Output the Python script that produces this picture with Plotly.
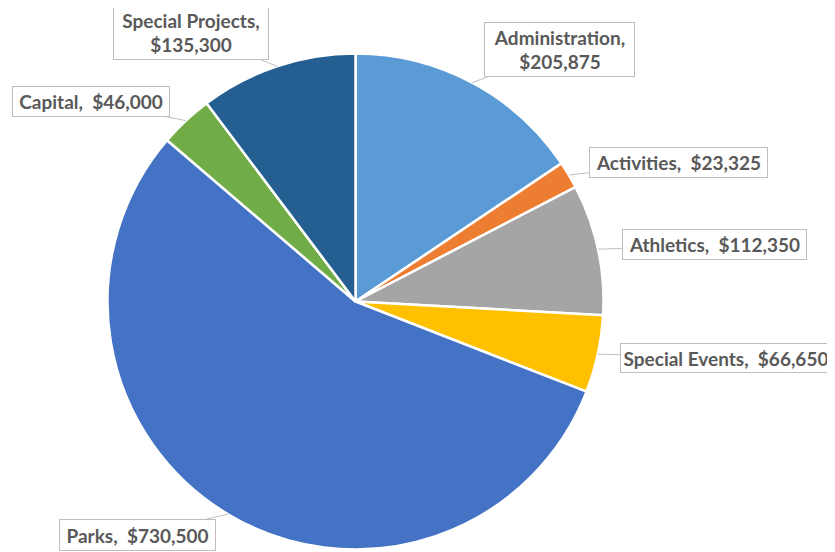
import math
import plotly.graph_objects as go

categories = ["Administration", "Activities", "Athletics", "Special Events",
              "Parks", "Capital", "Special Projects"]
values = [205875, 23325, 112350, 66650, 730500, 46000, 135300]
colors = ["#5B9BD5", "#ED7D31", "#A5A5A5", "#FFC000", "#4472C4", "#70AD47", "#255E91"]

W, H = 835, 552
OFF = 8  # page body margin offset
CX, CY, R = 355.5 - OFF, 301.5 - OFF, 248.0

# label boxes: centre x, centre y, box width, box height (screen pixels), two-line?
label_box = {
    "Administration": (559.5, 50, 151, 55, True),
    "Activities": (678.8, 163, 179, 31, False),
    "Athletics": (714.2, 244.7, 185, 31, False),
    "Special Events": (726, 358, 212, 30, False),
    "Parks": (137.7, 534.8, 157, 32, False),
    "Capital": (90.5, 101.3, 158, 31, False),
    "Special Projects": (191, 33, 156, 55, True),
}

fig = go.Figure(go.Pie(
    labels=categories, values=values, sort=False, direction="clockwise",
    rotation=0,
    marker=dict(colors=colors, line=dict(color="white", width=2.5)),
    textinfo="none", hoverinfo="label+value",
    domain=dict(x=[(CX - R) / W, (CX + R) / W], y=[1 - (CY + R) / H, 1 - (CY - R) / H]),
    showlegend=False,
))

PAD = 2
total = sum(values)
cum = 0
for cat, v in zip(categories, values):
    mid = (cum + v / 2) / total * 2 * math.pi
    cum += v
    tx = CX + R * math.sin(mid)
    ty = CY - R * math.cos(mid)
    bx, by, bw, bh, two = label_box[cat]
    bx -= OFF
    by -= OFF
    sep = ",<br>" if two else ",  "
    txt = f"{cat}{sep}${v:,.0f}"
    fig.add_annotation(
        x=tx / W, y=1 - ty / H, xref="paper", yref="paper",
        text=txt, showarrow=True, arrowhead=0, arrowwidth=1, arrowcolor="#BFBFBF",
        ax=bx - tx, ay=by - ty,
        width=bw - 2 * (1 + PAD), height=bh - 2 * (1 + PAD),
        font=dict(family="Lato", size=19, color="#595959", weight="bold"),
        bgcolor="white", bordercolor="#BFBFBF", borderwidth=1, borderpad=PAD,
        align="center", valign="middle",
    )

fig.update_layout(
    width=W, height=H, margin=dict(l=0, r=0, t=0, b=0),
    paper_bgcolor="white", plot_bgcolor="white",
)
fig.write_html("out.html")
